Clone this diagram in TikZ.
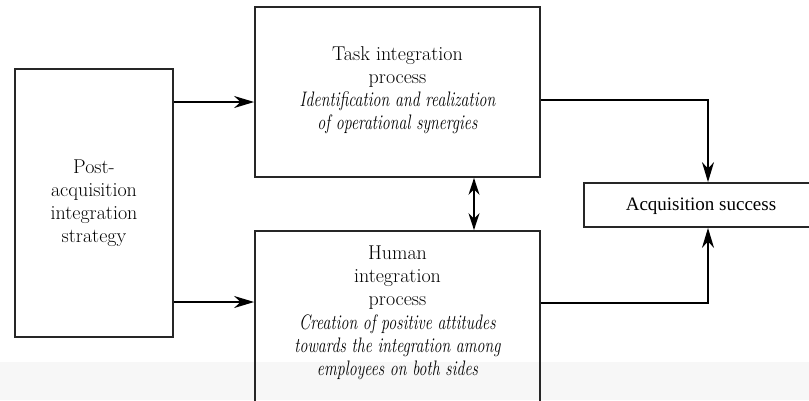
\documentclass[tikz,border=0pt]{standalone}
\usepackage{fontspec}
\usepackage{graphicx}
\usetikzlibrary{arrows.meta}
\newfontfamily\acqfont{Liberation Serif}
% narrow italic lines
\newcommand{\narrowit}[1]{\scalebox{0.76}[1]{\fontsize{21}{23.5}\selectfont\itshape #1}}
\begin{document}
\begin{tikzpicture}[x=1pt,y=-1pt,
  box/.style={draw=black!85,line width=1.8pt,inner sep=0pt},
  txt/.style={align=center,font=\fontsize{20}{23}\selectfont},
  arr/.style={line width=2pt,-{Stealth[length=20pt,width=12pt]}},
  dbl/.style={line width=2pt,{Stealth[length=17pt,width=11pt]}-{Stealth[length=17pt,width=11pt]}}]
  \useasboundingbox (0,0) rectangle (809,400);
  \clip (0,0) rectangle (809,400);
  % light band along the lower edge of the page
  \fill[black!3] (0,362) rectangle (809,400);
  % boxes
  \node[box,minimum width=158pt,minimum height=268pt] (strategy) at (94,203) {};
  \node[box,minimum width=285pt,minimum height=170pt] (task) at (397.5,92) {};
  \node[box,minimum width=285pt,minimum height=190pt] (human) at (397.5,326) {};
  \node[box,minimum width=234pt,minimum height=44pt] (acq) at (701,205) {};
  % texts
  \node[txt] (strategytext) at (94,203) {Post-\\acquisition\\integration\\strategy};
  \node[txt] (tasktext) at (397.5,90) {Task integration\\process\\
    \narrowit{Identification and realization}\\\narrowit{of operational synergies}};
  \node[txt] (humantext) at (397.5,313) {Human\\integration\\process\\[1.5pt]
    \narrowit{Creation of positive attitudes}\\\narrowit{towards the integration among}\\\narrowit{employees on both sides}};
  \node[font=\acqfont\fontsize{19}{22}\selectfont] (acqtext) at (701,206) {Acquisition success};
  % connectors
  \draw[arr] (strategy.east |- 0,102) -- (task.west |- 0,102);
  \draw[arr] (strategy.east |- 0,302) -- (human.west |- 0,302);
  \draw[dbl] (task.south -| 474,0) -- (human.north -| 474,0);
  \draw[arr] (task.east |- 0,100) -| (acq.north -| 708,0);
  \draw[arr] (human.east |- 0,303) -| (acq.south -| 708,0);
\end{tikzpicture}
\end{document}
